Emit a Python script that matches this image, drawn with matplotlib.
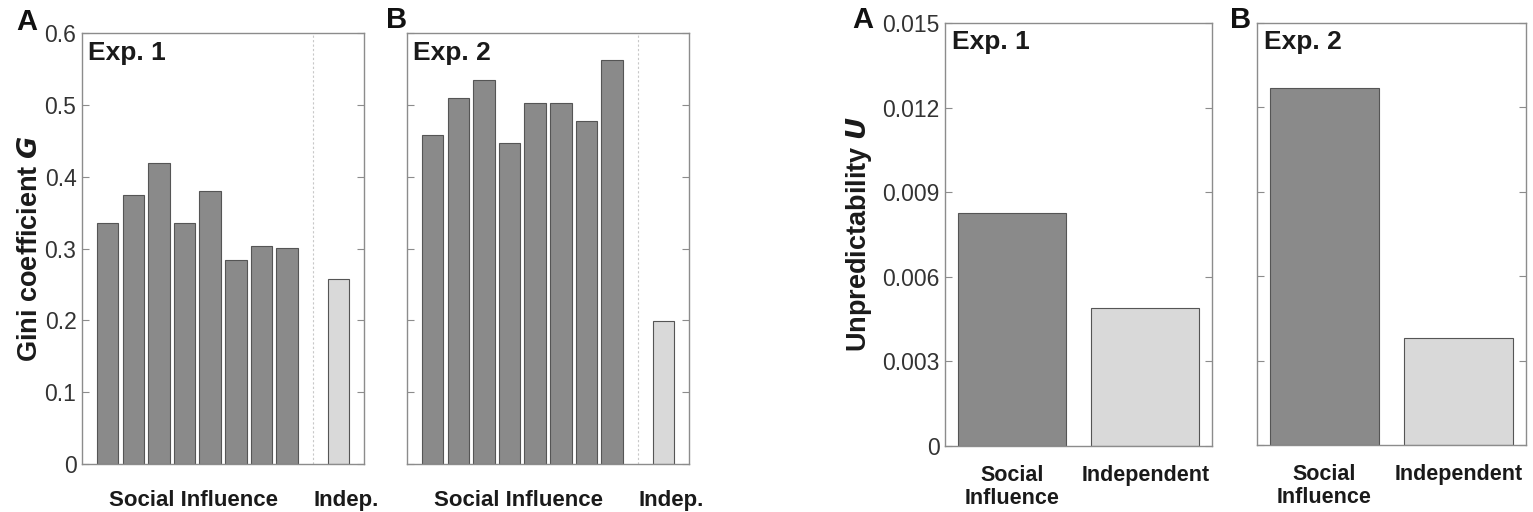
import matplotlib
matplotlib.use("Agg")
import matplotlib.pyplot as plt
import numpy as np

plt.rcParams['font.family'] = ['Liberation Sans', 'DejaVu Sans']

# ---- data ----
gini_exp1_social = [0.335, 0.375, 0.419, 0.335, 0.380, 0.284, 0.303, 0.301]
gini_exp1_indep = [0.257]
gini_exp2_social = [0.458, 0.510, 0.534, 0.447, 0.502, 0.502, 0.478, 0.563]
gini_exp2_indep = [0.199]
gini_yticks = [0, 0.1, 0.2, 0.3, 0.4, 0.5, 0.6]
gini_yticklabels = ['0', '0.1', '0.2', '0.3', '0.4', '0.5', '0.6']
gini_group_labels = ['Social Influence', 'Indep.']

u_categories = ['Social\nInfluence', 'Independent']
u_exp1 = [0.00828, 0.00489]
u_exp2 = [0.01268, 0.00379]
u_yticks = [0, 0.003, 0.006, 0.009, 0.012, 0.015]
u_yticklabels = ['0', '0.003', '0.006', '0.009', '0.012', '0.015']

DARK = '#8a8a8a'
LIGHT = '#d9d9d9'
EDGE = '#555555'
SPINE = '#8c8c8c'
TXT = '#1a1a1a'

W, H = 1533, 512
fig = plt.figure(figsize=(W / 100, H / 100), dpi=100)

def rect(l, r, t, b):
    return [l / W, 1 - b / H, (r - l) / W, (b - t) / H]

def style(ax, xfs, xpad):
    for s in ax.spines.values():
        s.set_color(SPINE)
        s.set_linewidth(1.0)
    ax.tick_params(axis='y', direction='in', length=5, color=SPINE, left=True, right=True,
                   labelsize=16.5, labelcolor='#333333', pad=4)
    ax.tick_params(axis='x', length=0, labelsize=xfs, pad=xpad)

def gini_panel(ax, social, indep, exp_label, show_labels):
    xs = np.arange(1, len(social) + 1)
    ax.bar(xs, social, width=0.84, color=DARK, edgecolor=EDGE, linewidth=0.8)
    xi = len(social) + 2
    ax.bar([xi], indep, width=0.84, color=LIGHT, edgecolor=EDGE, linewidth=0.8)
    ax.axvline(len(social) + 1, color='#c8c8c8', linestyle=(0, (2, 2)), linewidth=0.8)
    ax.set_xlim(0, len(social) + 3)
    ax.set_ylim(0, 0.6)
    ax.set_yticks(gini_yticks)
    if show_labels:
        ax.set_yticklabels(gini_yticklabels)
    else:
        ax.set_yticklabels([])
    # group labels placed slightly as in the original figure
    ax.set_xticks([(1 + len(social)) / 2 - 0.15, xi + 0.32])
    ax.set_xticklabels(gini_group_labels, fontweight='bold', color=TXT)
    style(ax, 16, 19)
    ax.text(6 / 282, 1 - 8 / 431, exp_label, transform=ax.transAxes, fontsize=19,
            fontweight='bold', va='top', ha='left', color=TXT)

def u_panel(ax, vals, exp_label, show_labels):
    xs = np.arange(1, len(vals) + 1)
    ax.bar(xs, vals, width=0.81, color=[DARK, LIGHT], edgecolor=EDGE, linewidth=0.8)
    ax.set_xlim(0.5, len(vals) + 0.5)
    ax.set_ylim(0, 0.015)
    ax.set_yticks(u_yticks)
    if show_labels:
        ax.set_yticklabels(u_yticklabels)
    else:
        ax.set_yticklabels([])
    ax.set_xticks(xs)
    ax.set_xticklabels(u_categories, fontweight='bold', color=TXT, va='top',
                       linespacing=1.12)
    style(ax, 15.5, 13.5)
    ax.text(7 / 267, 1 - 7 / 423, exp_label, transform=ax.transAxes, fontsize=19,
            fontweight='bold', va='top', ha='left', color=TXT)

ax1 = fig.add_axes(rect(82, 364, 33, 464))
gini_panel(ax1, gini_exp1_social, gini_exp1_indep, 'Exp. 1', True)
ax1.set_ylabel('Gini coefficient $\\boldsymbol{G}$', fontsize=19.5, fontweight='bold',
               color=TXT)
ax1.yaxis.set_label_coords((43 - 82) / 282, 0.5)

ax2 = fig.add_axes(rect(407, 689, 33, 464))
gini_panel(ax2, gini_exp2_social, gini_exp2_indep, 'Exp. 2', False)

ax3 = fig.add_axes(rect(945, 1212, 23, 446))
u_panel(ax3, u_exp1, 'Exp. 1', True)
ax3.set_ylabel('Unpredictability $\\boldsymbol{U}$', fontsize=19.5, fontweight='bold',
               color=TXT)
ax3.yaxis.set_label_coords((874 - 945) / 267, 0.5)

ax4 = fig.add_axes(rect(1257, 1526, 23, 445))
u_panel(ax4, u_exp2, 'Exp. 2', False)

# panel letters
for (x, y, s) in [(16, 8, 'A'), (386, 6, 'B'), (852, 6, 'A'), (1230, 6, 'B')]:
    fig.text(x / W, 1 - y / H, s, fontsize=21, fontweight='bold', va='top', ha='left',
             color='#111111')

fig.savefig('out.png', dpi=100)
